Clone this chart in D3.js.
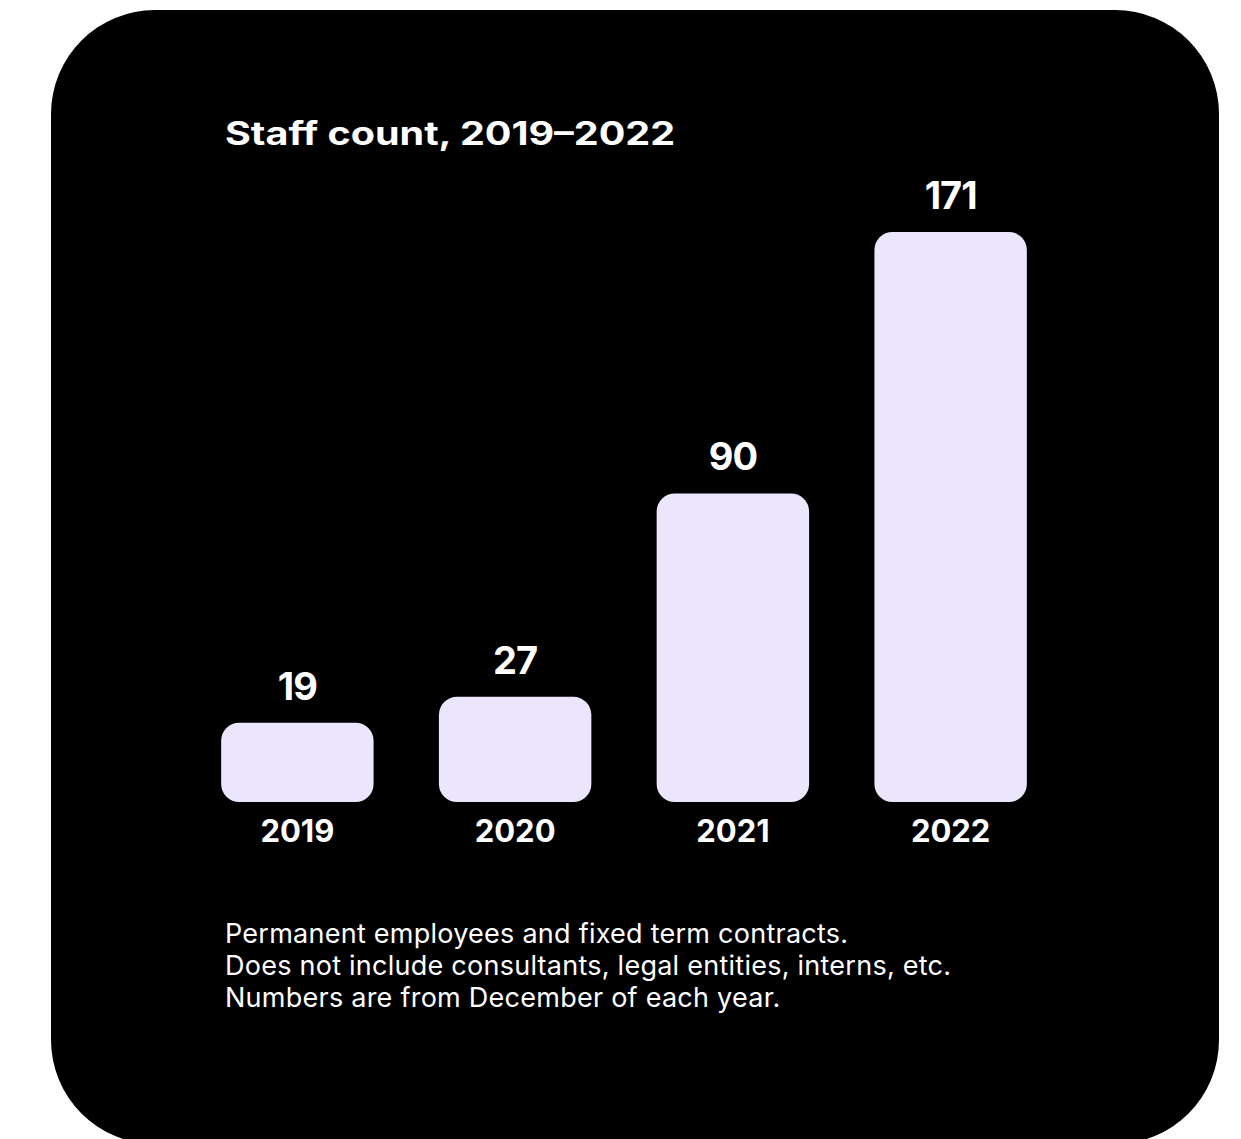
<!DOCTYPE html>
<html>
<head>
<meta charset="utf-8">
<script src="https://cdn.jsdelivr.net/npm/d3@7"></script>
<style>
  body { margin: 0; background: #fff; }
  svg text { font-family: Inter, "Noto Sans", sans-serif; }
</style>
</head>
<body>
<div id="chart"></div>
<script>
// Chart data
var years = ["2019", "2020", "2021", "2022"];
var staff = [19, 27, 90, 171];
var title = "Staff count, 2019\u20132022";
var notes = [
  "Permanent employees and fixed term contracts.",
  "Does not include consultants, legal entities, interns, etc.",
  "Numbers are from December of each year."
];

var svgWidth = 1241;
var svgHeight = 1139;

var svg = d3.select("#chart")
  .append("svg")
    .attr("width", svgWidth)
    .attr("height", svgHeight);

// black card
svg.append("rect")
  .attr("x", 51)
  .attr("y", 10)
  .attr("width", 1168)
  .attr("height", 1134)
  .attr("rx", 104)
  .attr("fill", "#000");

// scales
var baseY = 802;
var xBandScale = d3.scaleBand()
  .domain(years)
  .range([188.5, 1059.5])
  .paddingInner(0.3)
  .paddingOuter(0.15);

var yLinearScale = d3.scaleLinear()
  .domain([0, d3.max(staff)])
  .range([784, 232]);

var data = years.map(function(y, i) { return { year: y, value: staff[i] }; });

// bars
svg.selectAll(".bar")
  .data(data)
  .enter()
  .append("rect")
    .attr("class", "bar")
    .attr("x", d => xBandScale(d.year))
    .attr("y", d => yLinearScale(d.value))
    .attr("width", xBandScale.bandwidth())
    .attr("height", d => baseY - yLinearScale(d.value))
    .attr("rx", 18)
    .attr("fill", "#ebe6fb");

// value labels
svg.selectAll(".value")
  .data(data)
  .enter()
  .append("text")
    .attr("class", "value")
    .attr("x", d => xBandScale(d.year) + xBandScale.bandwidth() / 2)
    .attr("y", d => yLinearScale(d.value) - 23)
    .attr("text-anchor", "middle")
    .attr("fill", "#fff")
    .style("font-size", "38px")
    .style("font-weight", "700")
    .style("letter-spacing", "-1px")
    .text(d => d.value);

// year axis labels
svg.append("g")
  .attr("transform", `translate(0, ${baseY})`)
  .call(d3.axisBottom(xBandScale).tickSize(0).tickPadding(0))
  .call(g => g.select(".domain").remove())
  .selectAll("text")
    .attr("dy", null)
    .attr("y", 40)
    .attr("fill", "#fff")
    .style("font-family", "Inter, sans-serif")
    .style("font-size", "31px")
    .style("font-weight", "700");

// title (stretched a bit, the original face is wider)
svg.append("text")
  .attr("x", 225)
  .attr("y", 145)
  .attr("fill", "#fff")
  .attr("textLength", 450)
  .attr("lengthAdjust", "spacingAndGlyphs")
  .style("font-size", "32px")
  .style("font-weight", "700")
  .text(title);

// footnote
svg.append("g")
  .selectAll("text")
  .data(notes)
  .enter()
  .append("text")
    .attr("x", 225)
    .attr("y", (d, i) => 943 + i * 32)
    .attr("fill", "#fff")
    .style("font-size", "27px")
    .style("letter-spacing", "0.25px")
    .text(d => d);
</script>
</body>
</html>
